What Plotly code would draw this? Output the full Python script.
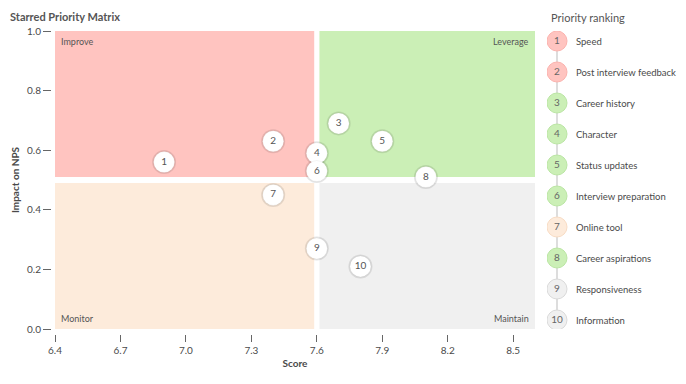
import plotly.graph_objects as go

# ---- data ----
ranks = [1, 2, 3, 4, 5, 6, 7, 8, 9, 10]
labels = ["Speed", "Post interview feedback", "Career history", "Character",
          "Status updates", "Interview preparation", "Online tool",
          "Career aspirations", "Responsiveness", "Information"]
score = [6.9, 7.4, 7.7, 7.6, 7.9, 7.6, 7.4, 8.1, 7.6, 7.8]
impact = [0.56, 0.63, 0.69, 0.59, 0.63, 0.53, 0.45, 0.51, 0.27, 0.21]
quadrant = ["Improve", "Improve", "Leverage", "Leverage", "Leverage", "Leverage",
            "Monitor", "Leverage", "Maintain", "Maintain"]
x_ticks = [6.4, 6.7, 7.0, 7.3, 7.6, 7.9, 8.2, 8.5]
y_ticks = [0.0, 0.2, 0.4, 0.6, 0.8, 1.0]
x_split, y_split = 7.6, 0.5
x_range = [6.4, 8.6]
y_range = [0.0, 1.0]

FONT = "Lato"
TXT = "#4a4a4a"
fill = {"Improve": "#FFC4C0", "Leverage": "#CBEFB6", "Monitor": "#FDEBDB", "Maintain": "#F0F0F0"}
edge = {"Improve": "#FBB3AE", "Leverage": "#BBE6A4", "Monitor": "#F8DCC4", "Maintain": "#DADADA"}

# page body has an 8px margin -> figure is drawn 8px right/down
OFF = 8
W, H = 686 - 2 * OFF, 384 - 2 * OFF
PL, PR, PT, PB = 55 - OFF, 535 - OFF, 31 - OFF, 329 - OFF   # plot box in figure px
L, T = PL - 4, PT
AXB = PB + 5                     # x-axis line position (figure px)
B = H - AXB
R = 0
pw, ph = W - L - R, H - T - B
x_dom = [(PL - L) / pw, (PR - L) / pw]
y_dom = [(AXB - PB) / ph, 1.0]

fig = go.Figure()

# quadrant rectangles
gx, gy = 0.012, 0.01
quads = [
    ("Improve", x_range[0], x_split - gx, y_split + gy, y_range[1], "left", "top"),
    ("Leverage", x_split + gx, x_range[1], y_split + gy, y_range[1], "right", "top"),
    ("Monitor", x_range[0], x_split - gx, y_range[0], y_split - gy, "left", "bottom"),
    ("Maintain", x_split + gx, x_range[1], y_range[0], y_split - gy, "right", "bottom"),
]
for name, x0, x1, y0, y1, ha, va in quads:
    fig.add_shape(type="rect", xref="x", yref="y", x0=x0, x1=x1, y0=y0, y1=y1,
                  fillcolor=fill[name], line=dict(width=0), layer="below")
    fig.add_annotation(xref="x", yref="y",
                       x=x0 if ha == "left" else x1,
                       y=y1 if va == "top" else y0,
                       text=name, showarrow=False, xanchor=ha, yanchor=va,
                       xshift=4 if ha == "left" else -4,
                       yshift=-3 if va == "top" else 3,
                       font=dict(family=FONT, size=9, color="#555"))

# points: shadow + white circles
fig.add_trace(go.Scatter(x=score, y=impact, mode="markers",
                         marker=dict(size=24, color="rgba(0,0,0,0.10)", line=dict(width=0)),
                         hoverinfo="skip", showlegend=False))
fig.add_trace(go.Scatter(x=score, y=impact, mode="markers+text",
                         text=[str(r) for r in ranks], textposition="middle center",
                         textfont=dict(family=FONT, size=10, color="#555"),
                         marker=dict(size=21, color="white", line=dict(width=0.6, color="rgba(0,0,0,0.08)")),
                         showlegend=False))

# ranking list on side axes
X2L = 547 - OFF
leg_x = [10] * len(ranks)
fig.add_trace(go.Scatter(x=leg_x, y=ranks, mode="lines", xaxis="x2", yaxis="y2",
                         line=dict(color="#DDDDDD", width=2), hoverinfo="skip", showlegend=False))
fig.add_trace(go.Scatter(x=leg_x, y=ranks, mode="markers+text", xaxis="x2", yaxis="y2",
                         text=[str(r) for r in ranks], textposition="middle center",
                         textfont=dict(family=FONT, size=10, color="#666"),
                         marker=dict(size=20, color=[fill[q] for q in quadrant],
                                     line=dict(width=1, color=[edge[q] for q in quadrant])),
                         showlegend=False))
for r, lab in zip(ranks, labels):
    fig.add_annotation(xref="x2", yref="y2", x=27, y=r, text=lab, showarrow=False,
                       xanchor="left", yanchor="middle",
                       font=dict(family=FONT, size=9.5, color=TXT))

fig.add_annotation(xref="paper", yref="paper", x=(549 - OFF - L) / pw, y=1 + (PT - (17 - OFF)) / ph,
                   text="Priority ranking", showarrow=False, xanchor="left", yanchor="middle",
                   font=dict(family=FONT, size=11, color="#555"))

# rank r sits at window y = 41 + (r-1)*31
rank_top = 1 - (41 - 31) / 31
rank_bot = 1 + (329 - 41) / 31

fig.update_layout(
    width=W, height=H,
    margin=dict(l=L, r=R, t=T, b=B, autoexpand=False),
    paper_bgcolor="white", plot_bgcolor="white",
    font=dict(family=FONT, color=TXT),
    title=dict(text="<b>Starred Priority Matrix</b>", x=(10 - OFF) / W, xanchor="left",
               y=1 - (17 - OFF) / H, yanchor="middle",
               font=dict(family=FONT, size=11, color="#555")),
    xaxis=dict(domain=x_dom, range=x_range, tickvals=x_ticks,
               ticktext=[f"{v:.1f}" for v in x_ticks],
               showgrid=False, zeroline=False, showline=False, automargin=False,
               ticks="outside", ticklen=7, tickcolor="#666", tickwidth=1,
               anchor="free", position=0,
               tickfont=dict(family=FONT, size=10, color=TXT),
               title=dict(text="<b>Score</b>", standoff=4,
                          font=dict(family=FONT, size=10, color=TXT))),
    yaxis=dict(domain=y_dom, range=y_range, tickvals=y_ticks,
               ticktext=[f"{v:.1f}" for v in y_ticks],
               showgrid=False, zeroline=False, showline=False, automargin=False,
               ticks="outside", ticklen=8, tickcolor="#666", tickwidth=1,
               anchor="free", position=0,
               tickfont=dict(family=FONT, size=10, color=TXT),
               title=dict(text="<b>Impact on NPS</b>", standoff=4,
                          font=dict(family=FONT, size=10, color=TXT))),
    xaxis2=dict(domain=[(X2L - L) / pw, 1], range=[0, W - X2L], visible=False,
                anchor="y2", fixedrange=True),
    yaxis2=dict(domain=y_dom, range=[rank_bot, rank_top], visible=False,
                anchor="x2", fixedrange=True),
)

fig.write_html("out.html")
